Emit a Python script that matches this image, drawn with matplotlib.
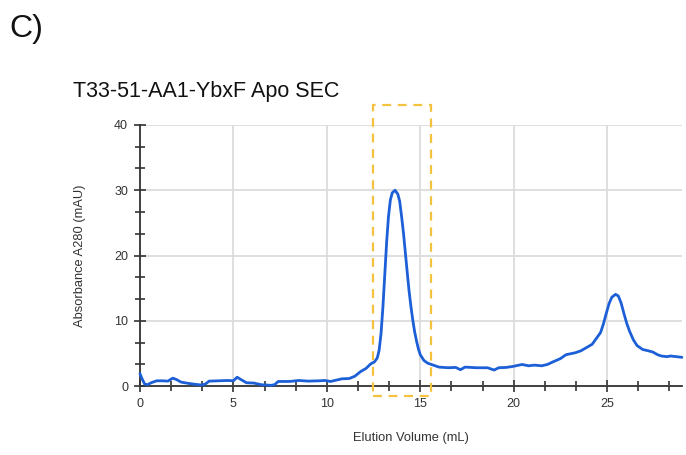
import matplotlib
matplotlib.use("Agg")
import matplotlib.pyplot as plt
from matplotlib.patches import Rectangle
from matplotlib.ticker import MultipleLocator

plt.rcParams["font.family"] = ["Liberation Sans", "DejaVu Sans"]

# Elution volume (mL) and absorbance A280 (mAU)
volume = [0.0, 0.1, 0.25, 0.4, 0.6, 0.9, 1.2, 1.5, 1.75, 1.95, 2.2, 2.6, 3.0, 3.3, 3.5, 3.7,
          4.2, 4.7, 5.0, 5.2, 5.4, 5.7, 6.1, 6.5, 6.8, 7.0, 7.2, 7.4, 8.0, 8.5, 9.0, 9.6,
          9.9, 10.2, 10.5, 10.8, 11.2, 11.5, 11.8, 12.1, 12.35, 12.55, 12.7, 12.8, 12.9,
          13.0, 13.1, 13.2, 13.3, 13.4, 13.5, 13.65, 13.8, 13.9, 14.0, 14.1, 14.2, 14.3,
          14.4, 14.5, 14.6, 14.7, 14.8, 14.9, 15.0, 15.2, 15.4, 15.6, 15.8, 16.0, 16.5,
          16.9, 17.15, 17.4, 18.0, 18.6, 18.95, 19.2, 19.6, 19.95, 20.45, 20.8, 21.1, 21.5,
          21.8, 22.1, 22.5, 22.8, 23.3, 23.6, 23.9, 24.2, 24.45, 24.65, 24.8, 24.95, 25.1,
          25.25, 25.45, 25.6, 25.75, 25.9, 26.05, 26.2, 26.4, 26.6, 26.9, 27.2, 27.45,
          27.7, 27.9, 28.2, 28.4, 28.7, 29.0]
absorbance = [1.9, 1.2, 0.3, 0.2, 0.5, 0.8, 0.8, 0.75, 1.2, 1.0, 0.6, 0.4, 0.25, 0.15, 0.3, 0.75,
              0.8, 0.85, 0.8, 1.35, 1.0, 0.5, 0.45, 0.2, 0.15, 0.1, 0.2, 0.7, 0.7, 0.85, 0.75, 0.8,
              0.85, 0.7, 0.9, 1.1, 1.15, 1.5, 2.2, 2.7, 3.4, 3.7, 4.3, 5.5, 8.0,
              12.0, 17.0, 22.0, 26.0, 28.5, 29.6, 30.0, 29.4, 28.3, 26.0, 23.5, 20.5, 17.5,
              14.6, 12.2, 10.1, 8.3, 6.9, 5.7, 4.8, 3.9, 3.5, 3.3, 3.1, 2.9, 2.8,
              2.85, 2.5, 2.9, 2.8, 2.8, 2.45, 2.8, 2.85, 3.0, 3.3, 3.1, 3.2, 3.1,
              3.3, 3.7, 4.2, 4.8, 5.1, 5.4, 5.9, 6.4, 7.4, 8.2, 9.5, 11.1, 12.6,
              13.6, 14.05, 13.8, 12.7, 11.1, 9.6, 8.4, 7.1, 6.2, 5.6, 5.4, 5.2,
              4.8, 4.6, 4.5, 4.6, 4.5, 4.4]

# Highlighted fraction window (mL) and its vertical extent (mAU)
window_start, window_end = 12.45, 15.6
window_low, window_high = -1.6, 43.1

fig = plt.figure(figsize=(6.86, 4.55), dpi=100)
ax = fig.add_axes([0.204, 0.1516, 0.790, 0.5737])

ax.plot(volume, absorbance, color="#1c5fd6", lw=2.0, solid_capstyle="round",
        solid_joinstyle="round", zorder=3, clip_on=False)

ax.add_patch(Rectangle((window_start, window_low), window_end - window_start,
                       window_high - window_low, fill=False, edgecolor="#f4c23f",
                       lw=1.6, linestyle=(0, (4, 3)), clip_on=False, zorder=4))

ax.set_xlim(0, 29)
ax.set_ylim(0, 40)
ax.xaxis.set_major_locator(MultipleLocator(5))
ax.xaxis.set_minor_locator(MultipleLocator(5 / 3))
ax.yaxis.set_major_locator(MultipleLocator(10))
ax.yaxis.set_minor_locator(MultipleLocator(10 / 3))

ax.grid(True, which="major", color="#dcdcdc", lw=1.3, zorder=0)
for side in ("top", "right"):
    ax.spines[side].set_visible(False)
for side in ("left", "bottom"):
    ax.spines[side].set_color("#333333")
    ax.spines[side].set_linewidth(1.3)

ax.tick_params(which="both", direction="inout", color="#333333", width=1.2,
               labelsize=9, labelcolor="#333333")
ax.tick_params(which="major", length=9, pad=4)
ax.tick_params(which="minor", length=7)

ax.set_xlabel("Elution Volume (mL)", fontsize=9.3, color="#333333", labelpad=16)
ax.set_ylabel("Absorbance A280 (mAU)", fontsize=9.3, color="#333333", labelpad=20)

fig.text(0.106, 0.787, "T33-51-AA1-YbxF Apo SEC", fontsize=15.5, color="#111111",
         ha="left", va="baseline")
fig.text(0.013, 0.918, "C)", fontsize=23, color="#111111", ha="left", va="baseline")

fig.savefig("out.png", dpi=100)
